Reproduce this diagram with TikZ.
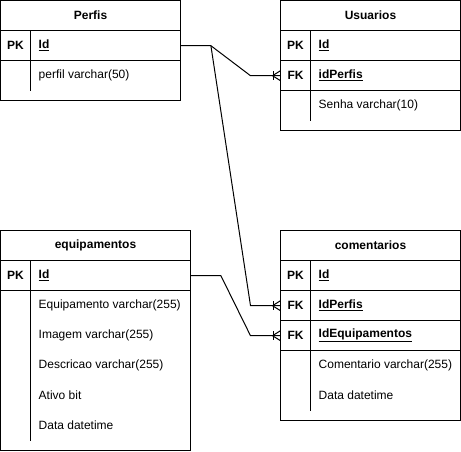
\documentclass[tikz,border=0pt]{standalone}
\usepackage{fontspec}
\setmainfont{Liberation Sans}
\begin{document}
\begin{tikzpicture}[x=1pt,y=-1pt,
  frame/.style={draw,line width=1pt},
  rule/.style={line width=1pt},
  txt/.style={inner sep=0pt,font=\fontsize{12}{14}\selectfont},
  title/.style={txt,font=\fontsize{12}{14}\selectfont\bfseries,anchor=center},
  keylbl/.style={txt,font=\fontsize{12}{14}\selectfont\bfseries,anchor=center},
  field/.style={txt,anchor=west},
  keyfield/.style={txt,font=\fontsize{12}{14}\selectfont\bfseries,anchor=west},
  row/.style={rectangle,inner sep=0pt,minimum height=30pt,anchor=north west},
  link/.style={line width=1pt},
  pics/manyend/.style={code={
    \draw[line width=1pt] (-7,-4.5) -- (-7,4.5);
    \draw[line width=1pt] (0,-5) -- (-8,0) -- (0,5);
  }}
]
\useasboundingbox (0,0) rectangle (461,451);

% ---------- Perfis ----------
\draw[frame] (0.5,0.5) rectangle (180.5,100.5);
\node[title] (p-title) at (90.5,15.5) {Perfis};
\draw[rule] (0.5,30.5) -- (180.5,30.5);
\draw[rule] (0.5,60.5) -- (180.5,60.5);
\draw[rule] (30.5,30.5) -- (30.5,90.5);
\node[row,minimum width=180pt] (p-id) at (0.5,30.5) {};
\node[row,minimum width=180pt] (p-perfil) at (0.5,60.5) {};
\node[keylbl] at (15.5,45.5) {PK};
\node[keyfield] at (38.5,45.5) {\underline{Id}};
\node[field] at (38.5,75.5) {perfil varchar(50)};

% ---------- Usuarios ----------
\draw[frame] (280.5,0.5) rectangle (460.5,130.5);
\node[title] (u-title) at (370.5,15.5) {Usuarios};
\draw[rule] (280.5,30.5) -- (460.5,30.5);
\draw[rule] (280.5,60.5) -- (460.5,60.5);
\draw[rule] (280.5,90.5) -- (460.5,90.5);
\draw[rule] (310.5,30.5) -- (310.5,120.5);
\node[row,minimum width=180pt] (u-id) at (280.5,30.5) {};
\node[row,minimum width=180pt] (u-fk) at (280.5,60.5) {};
\node[keylbl] at (295.5,45.5) {PK};
\node[keyfield] at (318.5,45.5) {\underline{Id}};
\node[keylbl] at (295.5,75.5) {FK};
\node[keyfield] at (318.5,75.5) {\underline{idPerfis}};
\node[field] at (318.5,105.5) {Senha varchar(10)};

% ---------- equipamentos ----------
\draw[frame] (0.5,230.5) rectangle (190.5,450.5);
\node[title] (e-title) at (95.5,245.5) {equipamentos};
\draw[rule] (0.5,260.5) -- (190.5,260.5);
\draw[rule] (0.5,290.5) -- (190.5,290.5);
\draw[rule] (30.5,260.5) -- (30.5,440.5);
\node[row,minimum width=190pt] (e-id) at (0.5,260.5) {};
\node[keylbl] at (15.5,275.5) {PK};
\node[keyfield] at (38.5,275.5) {\underline{Id}};
\node[field] at (38.5,305.5) {Equipamento varchar(255)};
\node[field] at (38.5,335.5) {Imagem varchar(255)};
\node[field] at (38.5,365.5) {Descricao varchar(255)};
\node[field] at (38.5,395.5) {Ativo bit};
\node[field] at (38.5,425.5) {Data datetime};

% ---------- comentarios ----------
\draw[frame] (280.5,230.5) rectangle (460.5,420.5);
\node[title] (c-title) at (370.5,245.5) {comentarios};
\draw[rule] (280.5,260.5) -- (460.5,260.5);
\draw[rule] (280.5,290.5) -- (460.5,290.5);
\draw[rule] (280.5,320.5) -- (460.5,320.5);
\draw[rule] (280.5,350.5) -- (460.5,350.5);
\draw[rule] (310.5,260.5) -- (310.5,410.5);
\node[row,minimum width=180pt] (c-id) at (280.5,260.5) {};
\node[row,minimum width=180pt] (c-fkp) at (280.5,290.5) {};
\node[row,minimum width=180pt] (c-fke) at (280.5,320.5) {};
\node[keylbl] at (295.5,275.5) {PK};
\node[keyfield] at (318.5,275.5) {\underline{Id}};
\node[keylbl] at (295.5,305.5) {FK};
\node[keyfield] at (318.5,305.5) {\underline{IdPerfis}};
\node[keylbl] at (295.5,335.5) {FK};
\node[keyfield] at (318.5,335.5) {\underline{IdEquipamentos}};
\node[field] at (318.5,365.5) {Comentario varchar(255)};
\node[field] at (318.5,395.5) {Data datetime};

% ---------- relationships ----------
\draw[link] (p-id.east) -- ++(30,0) coordinate (p-fork)
  -- ([xshift=-30pt]u-fk.west) -- (u-fk.west);
\draw[link] (p-fork) -- ([xshift=-30pt]c-fkp.west) -- (c-fkp.west);
\draw[link] (e-id.east) -- ++(30,0)
  -- ([xshift=-30pt]c-fke.west) -- (c-fke.west);
\pic at (u-fk.west) {manyend};
\pic at (c-fkp.west) {manyend};
\pic at (c-fke.west) {manyend};
\end{tikzpicture}
\end{document}
